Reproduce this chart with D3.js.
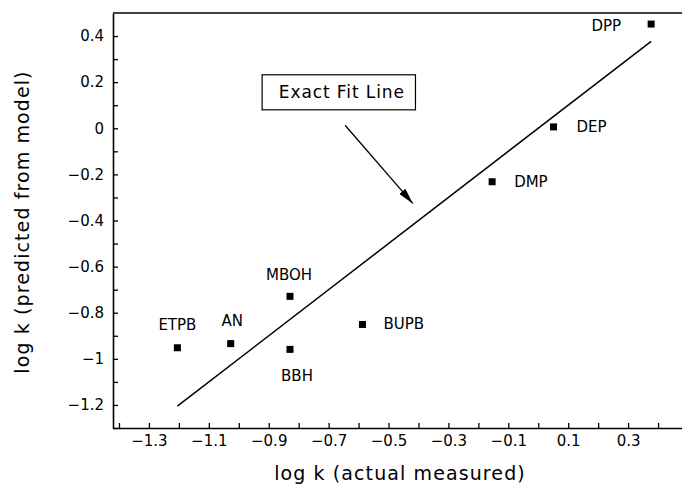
<!DOCTYPE html>
<html>
<head>
<meta charset="utf-8">
<script src="https://cdn.jsdelivr.net/npm/d3@7"></script>
<style>
  body { margin: 0; background: #fff; }
  svg { display: block; }
  text { font-family: "DejaVu Sans", "Liberation Sans", sans-serif; fill: #000; }
</style>
</head>
<body>
<div id="chart"></div>
<script>
// compounds, measured log k and model-predicted log k
const names = ["DPP", "DEP", "DMP", "MBOH", "ETPB", "AN", "BBH", "BUPB"];
const actual = [0.377, 0.051, -0.154, -0.829, -1.205, -1.027, -0.829, -0.587];
const predicted = [0.452, 0.006, -0.232, -0.729, -0.952, -0.934, -0.959, -0.851];

// tick values
const xTicks = [-1.4, -1.3, -1.2, -1.1, -1.0, -0.9, -0.8, -0.7, -0.6, -0.5, -0.4, -0.3, -0.2, -0.1, 0, 0.1, 0.2, 0.3, 0.4];
const xLabels = [-1.3, -1.1, -0.9, -0.7, -0.5, -0.3, -0.1, 0.1, 0.3];
const yTicks = [-1.3, -1.2, -1.1, -1.0, -0.9, -0.8, -0.7, -0.6, -0.5, -0.4, -0.3, -0.2, -0.1, 0, 0.1, 0.2, 0.3, 0.4];
const yLabels = [-1.2, -1, -0.8, -0.6, -0.4, -0.2, 0, 0.2, 0.4];

// exact fit line y = x between the extreme measured values
const fitLine = [d3.min(actual), d3.max(actual)];

const width = 682, height = 487;
const margin = {top: 13, right: 0, bottom: 59, left: 113};

const svg = d3.select("#chart").append("svg")
    .attr("width", width)
    .attr("height", height);

const x = d3.scaleLinear()
    .domain([-1.42, 0.48])
    .range([margin.left, width - margin.right]);

const y = d3.scaleLinear()
    .domain([-1.3, 0.5])
    .range([height - margin.bottom, margin.top]);

const fmt = d3.format("~g");
const xFmt = d3.format(".1f");

// x axis, ticks pointing inward
const xAxis = svg.append("g")
    .attr("transform", "translate(0," + y(-1.3) + ")")
    .call(d3.axisBottom(x)
        .tickValues(xTicks)
        .tickSizeInner(-5)
        .tickSizeOuter(0)
        .tickPadding(7)
        .tickFormat(d => xLabels.some(v => Math.abs(v - d) < 1e-9) ? xFmt(d) : ""));

// y axis
const yAxis = svg.append("g")
    .attr("transform", "translate(" + x(-1.42) + ",0)")
    .call(d3.axisLeft(y)
        .tickValues(yTicks)
        .tickSizeInner(-5)
        .tickSizeOuter(0)
        .tickPadding(9)
        .tickFormat(d => yLabels.some(v => Math.abs(v - d) < 1e-9) ? fmt(d) : ""));

[xAxis, yAxis].forEach(a => {
    a.select(".domain").attr("stroke", "#000").attr("stroke-width", 1.6);
    a.selectAll(".tick line").attr("stroke", "#000").attr("stroke-width", 1.3);
    a.selectAll(".tick text")
        .attr("font-size", 15)
        .attr("font-family", "'DejaVu Sans', sans-serif");
});

// top frame line
svg.append("line")
    .attr("x1", x(-1.42)).attr("x2", x(0.48))
    .attr("y1", y(0.5)).attr("y2", y(0.5))
    .attr("stroke", "#000")
    .attr("stroke-width", 1.6);

// exact fit line
svg.append("line")
    .attr("x1", x(fitLine[0])).attr("y1", y(fitLine[0]))
    .attr("x2", x(fitLine[1])).attr("y2", y(fitLine[1]))
    .attr("stroke", "#000")
    .attr("stroke-width", 1.5);

// points
const pts = names.map((n, i) => ({name: n, ax: actual[i], pr: predicted[i]}));

svg.append("g").selectAll("rect")
    .data(pts)
    .enter().append("rect")
    .attr("x", d => x(d.ax) - 3.5)
    .attr("y", d => y(d.pr) - 3.5)
    .attr("width", 7)
    .attr("height", 7)
    .attr("fill", "#000");

// label placement relative to each point
const labelPos = {
    DPP:  {dx: -30, dy: 7,   anchor: "end"},
    DEP:  {dx: 23,  dy: 5,   anchor: "start"},
    DMP:  {dx: 22,  dy: 5.5, anchor: "start"},
    MBOH: {dx: -1,  dy: -16, anchor: "middle"},
    ETPB: {dx: 0,   dy: -18, anchor: "middle"},
    AN:   {dx: 1.5, dy: -17.5, anchor: "middle"},
    BBH:  {dx: 7,   dy: 31.5, anchor: "middle"},
    BUPB: {dx: 21,  dy: 5,   anchor: "start"}
};

svg.append("g").selectAll("text")
    .data(pts)
    .enter().append("text")
    .attr("x", d => x(d.ax) + labelPos[d.name].dx)
    .attr("y", d => y(d.pr) + labelPos[d.name].dy)
    .attr("text-anchor", d => labelPos[d.name].anchor)
    .attr("font-size", 15)
    .text(d => d.name);

// annotation box and arrow
svg.append("defs").append("marker")
    .attr("id", "arrow")
    .attr("viewBox", "0 0 10 10")
    .attr("refX", 10).attr("refY", 5)
    .attr("markerWidth", 16).attr("markerHeight", 8)
    .attr("markerUnits", "userSpaceOnUse")
    .attr("orient", "auto")
    .attr("preserveAspectRatio", "none")
    .append("path")
    .attr("d", "M0,0L10,5L0,10Z")
    .attr("fill", "#000");

svg.append("rect")
    .attr("x", x(-0.922)).attr("y", y(0.232))
    .attr("width", x(-0.410) - x(-0.922))
    .attr("height", y(0.080) - y(0.232))
    .attr("fill", "none")
    .attr("stroke", "#000")
    .attr("stroke-width", 1.2);

svg.append("text")
    .attr("x", (x(-0.922) + x(-0.410)) / 2 + 3)
    .attr("y", (y(0.232) + y(0.080)) / 2 + 6)
    .attr("text-anchor", "middle")
    .attr("font-size", 17)
    .attr("letter-spacing", 0.9)
    .text("Exact Fit Line");

svg.append("line")
    .attr("x1", x(-0.645)).attr("y1", y(0.013))
    .attr("x2", x(-0.419)).attr("y2", y(-0.326))
    .attr("stroke", "#000")
    .attr("stroke-width", 1.3)
    .attr("marker-end", "url(#arrow)");

// axis titles
svg.append("text")
    .attr("x", 400)
    .attr("y", 480)
    .attr("text-anchor", "middle")
    .attr("font-size", 19)
    .attr("letter-spacing", 1.1)
    .text("log k (actual measured)");

svg.append("text")
    .attr("transform", "translate(29,222) rotate(-90)")
    .attr("text-anchor", "middle")
    .attr("font-size", 19)
    .attr("letter-spacing", 1.1)
    .text("log k (predicted from model)");
</script>
</body>
</html>
